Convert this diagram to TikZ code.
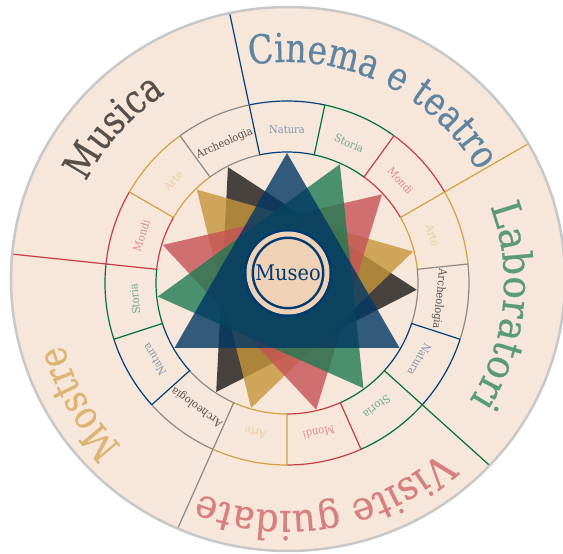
\documentclass[tikz,border=0pt]{standalone}
\usepackage{fontspec}
\setmainfont{DejaVu Serif}[FakeStretch=0.9]
\newfontfamily\outerfont{DejaVu Serif}[FakeStretch=0.82, FakeBold=0.4]
\newfontfamily\outerwide{DejaVu Serif}[FakeStretch=0.94, FakeBold=0.4]
\newfontfamily\outermid{DejaVu Serif}[FakeStretch=0.92, FakeBold=0.4]
\usetikzlibrary{decorations.text}

\definecolor{bgc}{HTML}{F7E6DA}
\definecolor{rimc}{HTML}{C8C8C8}
\definecolor{natl}{HTML}{003F7A}
\definecolor{stol}{HTML}{00703C}
\definecolor{monl}{HTML}{C83C46}
\definecolor{artl}{HTML}{D4A040}
\definecolor{arcl}{HTML}{8A8A8A}
\definecolor{natt}{HTML}{7F95AD}
\definecolor{stot}{HTML}{6BAA88}
\definecolor{mont}{HTML}{E08C8C}
\definecolor{artt}{HTML}{EBCB9B}
\definecolor{arct}{HTML}{505050}
\definecolor{cint}{HTML}{5F84A0}
\definecolor{labt}{HTML}{5A9A78}
\definecolor{vist}{HTML}{D88080}
\definecolor{most}{HTML}{DDB474}
\definecolor{must}{HTML}{55504C}
\definecolor{natf}{HTML}{003764}
\definecolor{stof}{HTML}{1F7A53}
\definecolor{monf}{HTML}{C65255}
\definecolor{artf}{HTML}{C6953A}
\definecolor{arcf}{HTML}{1C1917}
\definecolor{museof}{HTML}{EFD2B6}
\definecolor{museol}{HTML}{003A70}

\newcommand\olab{\outerfont\fontsize{40}{40}\selectfont}
\newcommand\olabw{\outerwide\fontsize{40}{40}\selectfont}
\newcommand\olabm{\outermid\fontsize{40}{40}\selectfont}

\begin{document}
\begin{tikzpicture}[x=1pt,y=1pt,
  segline/.style={line width=1.2pt},
  seglab/.style={font=\fontsize{11}{12}\selectfont, inner sep=0pt},
  divline/.style={line width=1.2pt},
  tri/.style={fill opacity=0.8},
]
\useasboundingbox (-287,-271) rectangle (276,283);
\fill[white] (-287,-271) rectangle (276,283);

% outer disc
\fill[bgc] (1,4) ellipse [x radius=277, y radius=272];

% dividers of the outer ring
\begin{scope}
  \clip (1,4) ellipse [x radius=277, y radius=272];
  \foreach \a/\c in {102/natl, 30/artl, -42/stol, -114/arcl, 174/monl}
    \draw[divline, \c] (\a:182) -- (\a:320);
\end{scope}
\draw[rimc, line width=2.5pt] (1,4) ellipse [x radius=277, y radius=272];

% inner ring of 15 segments
\foreach \a/\l/\t/\n [count=\i] in {
   102/natl/natt/Natura, 78/stol/stot/Storia, 54/monl/mont/Mondi, 30/artl/artt/Arte, 6/arcl/arct/Archeologia,
   -18/natl/natt/Natura, -42/stol/stot/Storia, -66/monl/mont/Mondi, -90/artl/artt/Arte, -114/arcl/arct/Archeologia,
   -138/natl/natt/Natura, -162/stol/stot/Storia, -186/monl/mont/Mondi, -210/artl/artt/Arte, -234/arcl/arct/Archeologia} {
  \draw[segline, \l] (\a:182) -- (\a:131) arc[start angle=\a, delta angle=-24, radius=131];
  \draw[segline, \l] (\a:182) arc[start angle=\a, delta angle=-24, radius=182];
  \pgfmathsetmacro\m{\a-12}
  \node[seglab, text=\t, rotate=\m-90] (seg\i) at (\m:153) {\n};
}

% star of five triangles
\foreach \r/\f in {-3/arcf, 14/artf, 43/monf, 66/stof, 90/natf}
  \fill[tri, \f] (\r:130) -- ({\r+120}:130) -- ({\r+240}:130) -- cycle;

% outer labels
\path[decorate, decoration={text along path, text align=center, text color=cint,
   text={|\olab|Cinema e teatro}}]
   (102:221) arc[start angle=102, end angle=28, radius=221];
\path[decorate, decoration={text along path, text align=center, text color=labt,
   text={|\olabw|Laboratori}}]
   (30:217) arc[start angle=30, end angle=-42, radius=217];
\path[decorate, decoration={text along path, text align=center, text color=vist,
   text={|\olabm|Visite guidate}}]
   (-38:228) arc[start angle=-38, end angle=-122, radius=228];
\path[decorate, decoration={text along path, text align=center, text color=most,
   text={|\olab|Mostre}}]
   (246:232) arc[start angle=246, end angle=174, radius=232];
\path[decorate, decoration={text along path, text align=center, text color=must,
   text={|\olab|Musica}}]
   (174:225) arc[start angle=174, end angle=102, radius=225];

% centre
\node[circle, fill=museof, draw=museol, double=museof, double distance=5pt,
      line width=2.5pt, minimum size=78pt, inner sep=0pt, text=museol,
      font=\fontsize{21.5}{24}\selectfont] (museo) at (1,10) {Museo};
\end{tikzpicture}
\end{document}
